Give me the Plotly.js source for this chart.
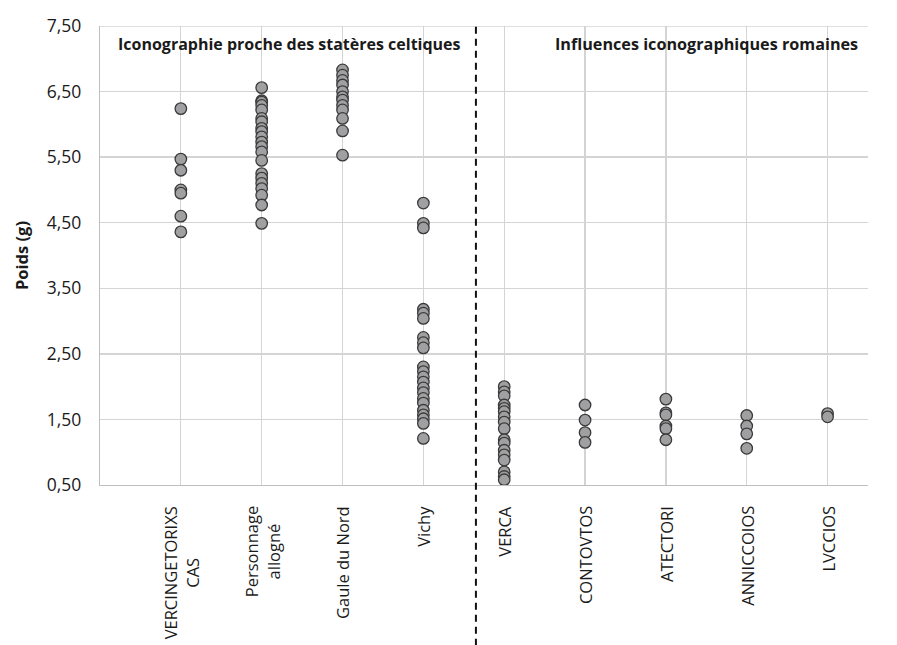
<!DOCTYPE html>
<html>
<head>
<meta charset="utf-8">
<script src="https://cdn.plot.ly/plotly-3.0.1.min.js"></script>
<style>html,body{margin:0;padding:0;background:#fff;}#chart{width:897px;height:645px;}</style>
</head>
<body>
<div id="chart"></div>
<script>
var categories = ["VERCINGETORIXS<br>CAS", "Personnage<br>allogné", "Gaule du Nord", "Vichy", "VERCA", "CONTOVTOS", "ATECTORI", "ANNICCOIOS", "LVCCIOS"];
var vercingetorixs = [6.24, 5.47, 5.30, 5.00, 4.95, 4.60, 4.36];
var personnage = [6.56, 6.36, 6.34, 6.29, 6.22, 6.09, 6.04, 5.94, 5.89, 5.81, 5.73, 5.66, 5.58, 5.45, 5.25, 5.18, 5.10, 5.02, 4.92, 4.77, 4.49];
var gauleNord = [6.83, 6.75, 6.67, 6.60, 6.50, 6.42, 6.37, 6.29, 6.22, 6.09, 5.90, 5.53];
var vichy = [4.80, 4.49, 4.42, 3.18, 3.12, 3.04, 2.75, 2.67, 2.59, 2.30, 2.23, 2.15, 2.07, 1.98, 1.91, 1.82, 1.75, 1.64, 1.57, 1.51, 1.44, 1.21];
var verca = [2.00, 1.92, 1.86, 1.72, 1.67, 1.62, 1.54, 1.46, 1.36, 1.19, 1.14, 1.03, 0.96, 0.88, 0.70, 0.63, 0.58];
var contovtos = [1.72, 1.49, 1.30, 1.15];
var atectori = [1.81, 1.60, 1.57, 1.40, 1.36, 1.19];
var anniccoios = [1.56, 1.40, 1.28, 1.06];
var lvccios = [1.59, 1.54];
var groups = [vercingetorixs, personnage, gauleNord, vichy, verca, contovtos, atectori, anniccoios, lvccios];
var headers = ["Iconographie proche des statères celtiques", "Influences iconographiques romaines"];
var yTicks = [0.5, 1.5, 2.5, 3.5, 4.5, 5.5, 6.5, 7.5];

var xs = [], ys = [];
groups.forEach(function (g, i) {
  g.forEach(function (v) { xs.push(i + 1); ys.push(v); });
});

var font = "'Open Sans', 'Noto Sans', sans-serif";
var trace = {
  x: xs, y: ys, type: 'scatter', mode: 'markers',
  marker: {size: 11.5, color: '#a0a0a2', line: {color: '#3a3a3a', width: 1.3}},
  hoverinfo: 'y', showlegend: false
};

var catLabels = categories.map(function (c, i) {
  return {xref: 'x', yref: 'paper', x: i + 1, y: 0, yshift: -19, xanchor: 'center', yanchor: 'top',
    text: c, textangle: -90, align: 'center', showarrow: false,
    font: {size: 16.5, family: font, color: '#1a1a1a'}};
});

var layout = {
  width: 897, height: 645,
  margin: {l: 100, r: 29, t: 26, b: 160},
  paper_bgcolor: '#ffffff', plot_bgcolor: '#ffffff',
  separators: ',.',
  font: {family: font, color: '#1a1a1a', size: 15},
  xaxis: {
    range: [0, 9.5], tickmode: 'array',
    tickvals: categories.map(function (c, i) { return i + 1; }),
    ticktext: categories, showticklabels: false,
    showgrid: true, gridcolor: '#d4d4d4', gridwidth: 1.3,
    showline: true, linecolor: '#bfbfbf', linewidth: 1.3,
    ticks: '', zeroline: false
  },
  yaxis: {
    range: [0.5, 7.5], tickmode: 'array', tickvals: yTicks,
    tickformat: '.2f',
    showgrid: true, gridcolor: '#d4d4d4', gridwidth: 1.3,
    showline: true, linecolor: '#bfbfbf', linewidth: 1.3,
    ticks: '', zeroline: false, ticklabelstandoff: 14,
    tickfont: {size: 17.5, family: font, color: '#1a1a1a'},
    title: {text: '<b>Poids (g)</b>', font: {size: 16.5, family: font, color: '#1a1a1a'}, standoff: 14}
  },
  shapes: [
    {type: 'line', xref: 'x', yref: 'paper', x0: 4.65, x1: 4.65, y0: -0.35, y1: 1,
     line: {color: '#111111', width: 2, dash: '7px,5px'}},
    {type: 'line', xref: 'paper', yref: 'y', x0: 0, x1: 1, y0: 7.5, y1: 7.5,
     line: {color: '#d4d4d4', width: 1.3}, layer: 'below'}
  ],
  annotations: [
    {xref: 'x', yref: 'paper', x: 2.35, y: 0.961, yanchor: 'middle', xanchor: 'center',
     text: '<b>' + headers[0] + '</b>', showarrow: false,
     font: {size: 16, family: font, color: '#1a1a1a'}},
    {xref: 'x', yref: 'paper', x: 7.5, y: 0.961, yanchor: 'middle', xanchor: 'center',
     text: '<b>' + headers[1] + '</b>', showarrow: false,
     font: {size: 16.2, family: font, color: '#1a1a1a'}}
  ].concat(catLabels)
};

Plotly.newPlot('chart', [trace], layout, {displayModeBar: false, staticPlot: true});
</script>
</body>
</html>
